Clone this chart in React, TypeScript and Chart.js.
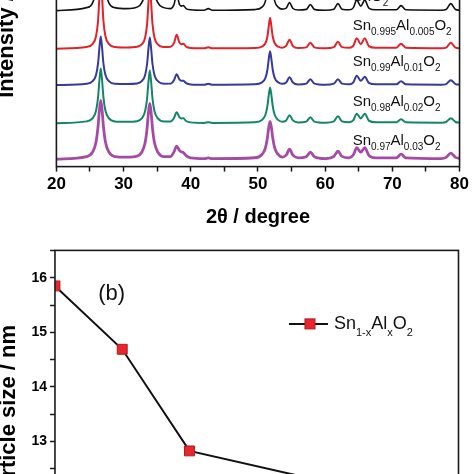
import React, { useEffect, useRef } from 'react';
import { Chart, registerables } from 'chart.js';

Chart.register(...registerables);

const FONT = "Arial, 'Liberation Sans', Helvetica, sans-serif";

// ---------- (a) XRD patterns ----------
const twoTheta = [20, 24.5, 25.4, 25.9, 26.2, 26.4, 26.6, 26.8, 27.0, 27.3, 27.8, 28.7, 30.5, 32.0, 32.7, 33.2, 33.5, 33.7, 33.9, 34.1, 34.3, 34.6, 35.1, 36.0, 37.0, 37.5, 37.9, 38.3, 38.6, 38.9, 39.3, 40.0, 42.0, 42.6, 43.2, 49.5, 50.6, 51.1, 51.4, 51.6, 51.8, 52.0, 52.2, 52.5, 53.0, 53.6, 54.2, 54.7, 55.2, 56.0, 57.2, 57.8, 58.4, 60.0, 61.3, 61.9, 62.5, 63.6, 64.2, 64.7, 65.3, 65.9, 66.5, 67.5, 70.6, 71.3, 72.0, 77.3, 78.0, 78.7, 79.4, 80];
const intensitySnO2 = [0, 3, 8, 22, 50, 97, 140, 97, 50, 22, 8, 3, 2, 3.5, 8, 20, 47, 90, 130, 90, 47, 20, 8, 3, 2, 6, 16, 6.5, 4.5, 5, 2, 0.8, 0.3, 2, 0.3, 1, 3.5, 9.3, 21.6, 41, 60, 41, 21.6, 9.3, 3.5, 1.5, 2.5, 8, 2.1, 0.6, 1.2, 6, 1.2, 0.3, 1.4, 7, 1.4, 0.8, 3, 10.5, 4.5, 10.5, 2.5, 0.8, 0.8, 5, 0.8, 0.4, 1.1, 7, 1.1, 0.4];
const intensityAl0005 = [0, 1.7, 4.8, 12.5, 28, 52, 72, 52, 28, 12.5, 4.8, 1.7, 1.2, 2, 4.2, 11, 25, 46, 64, 46, 25, 11, 4.2, 1.6, 2, 5.5, 14, 6.3, 4.5, 4.9, 2, 0.7, 0.3, 1.5, 0.3, 0.6, 2, 5.4, 12, 22.3, 31, 22.3, 12, 5.4, 2, 1, 2.8, 9, 2.6, 0.6, 1.3, 6, 1.3, 0.3, 1.5, 7, 1.5, 0.8, 3, 10.5, 4.5, 10.5, 2.5, 0.8, 0.9, 5, 0.9, 0.4, 1, 6, 1, 0.4];
const intensityAl001 = [0, 1.4, 4.1, 10.2, 21.9, 37.4, 49, 37.4, 21.9, 10.2, 4.1, 1.4, 1.2, 1.7, 4, 10, 21.5, 36.7, 48, 36.7, 21.5, 10, 4, 1.4, 1.5, 4.9, 11, 5.8, 4.4, 4.4, 2, 0.7, 0.3, 1.5, 0.3, 0.8, 2.8, 7.1, 15.2, 26, 34, 26, 15.2, 7.1, 2.8, 1.3, 2.6, 8, 2.6, 0.7, 1.5, 6, 1.5, 0.3, 1.5, 6, 1.5, 0.8, 2.8, 9.5, 4.3, 8.5, 2.2, 0.8, 0.8, 4, 0.8, 0.4, 1, 5, 1, 0.4];
const intensityAl002 = [0, 1.8, 5, 12.5, 26, 43, 55, 43, 26, 12.5, 5, 1.8, 1.4, 2, 4.8, 12, 25, 41.5, 53, 41.5, 25, 12, 4.8, 1.7, 1.7, 5.2, 11, 6.2, 4.8, 4.9, 2.2, 0.8, 0.3, 1, 0.3, 0.9, 3.3, 8.2, 17, 28, 36, 28, 17, 8.2, 3.3, 1.5, 2.8, 8, 2.8, 0.8, 1.6, 6, 1.6, 0.4, 1.8, 7, 1.8, 0.9, 3, 9.5, 4.8, 9.5, 2.6, 0.9, 0.9, 4, 0.9, 0.5, 1.2, 5, 1.2, 0.5];
const intensityAl003 = [0, 2.6, 7.3, 17.2, 33, 49, 59, 49, 33, 17.2, 7.3, 2.6, 2, 3, 6.9, 16.4, 31.3, 46.8, 56, 46.8, 31.3, 16.4, 6.9, 2.5, 2.6, 7.3, 13, 8.8, 7.3, 6.6, 3.6, 1.2, 0.5, 1.2, 0.5, 1.4, 4.7, 11.1, 21.2, 31.7, 38, 31.7, 21.2, 11.1, 4.7, 2, 4, 10, 4, 1.2, 2.5, 7, 2.5, 0.6, 2.8, 8, 2.8, 1.3, 4.4, 11.5, 7, 11.5, 3.8, 1.2, 1.3, 5, 1.3, 0.6, 1.8, 6, 1.8, 0.6];
const patternIntensities = [intensitySnO2, intensityAl0005, intensityAl001, intensityAl002, intensityAl003];
const stackOffsets = [157, 118.7, 82, 43.7, 7.5];
const sampleLabels = ['SnO_{2}', 'Sn_{0.995}Al_{0.005}O_{2}', 'Sn_{0.99}Al_{0.01}O_{2}', 'Sn_{0.98}Al_{0.02}O_{2}', 'Sn_{0.97}Al_{0.03}O_{2}'];
const labelLevels = [166.5, 137, 101, 61, 22];
const labelAt2Theta = 64.1;
const patternColors = ['#111111', '#e1222a', '#363a9a', '#158568', '#a64ba5'];
const patternWidths = [1.6, 2, 2, 2, 2.8];

// ---------- (b) particle size ----------
const molFractionX = [0, 0.005, 0.01, 0.02, 0.03];
const particleSizeNm = [15.85, 14.69, 12.83, 12.27, 11.9];
const panelTag = '(b)';
const panelTagAt = { x: 0.00421, y: 15.7 };
const seriesLabel = 'Sn_{1-x}Al_{x}O_{2}';

function drawRich(ctx: CanvasRenderingContext2D, text: string, x: number, y: number, mainPx: number, subPx: number, drop: number) {
  const parts = text.split(/(_\{[^}]*\})/).filter(Boolean);
  let cx = x;
  ctx.textAlign = 'left';
  ctx.textBaseline = 'alphabetic';
  for (const p of parts) {
    const sub = p.startsWith('_{');
    const t = sub ? p.slice(2, -1) : p;
    ctx.font = `${sub ? subPx : mainPx}px ${FONT}`;
    ctx.fillText(t, cx, y + (sub ? drop : 0));
    cx += ctx.measureText(t).width;
  }
}

const framePlugin = {
  id: 'frame',
  afterDatasetsDraw(chart: any) {
    const { ctx, chartArea: a } = chart;
    ctx.save();
    ctx.strokeStyle = '#1a1a1a';
    ctx.lineWidth = 1.6;
    ctx.strokeRect(a.left, a.top, a.right - a.left, a.bottom - a.top);
    ctx.restore();
  },
};

function place(chart: any, wrap: HTMLDivElement, t: { left: number; right: number; top: number; bottom: number }) {
  let a = chart.chartArea;
  const w = Math.round(chart.width + (t.right - t.left) - (a.right - a.left));
  const h = Math.round(chart.height + (t.bottom - t.top) - (a.bottom - a.top));
  chart.resize(w, h);
  a = chart.chartArea;
  wrap.style.left = `${t.left - a.left}px`;
  wrap.style.top = `${t.top - a.top}px`;
}

export default function App() {
  const wrapA = useRef<HTMLDivElement>(null);
  const canA = useRef<HTMLCanvasElement>(null);
  const wrapB = useRef<HTMLDivElement>(null);
  const canB = useRef<HTMLCanvasElement>(null);

  useEffect(() => {
    Chart.defaults.font.family = FONT;
    Chart.defaults.color = '#000';

    const labelsPlugin = {
      id: 'sampleLabels',
      afterDatasetsDraw(chart: any) {
        const { ctx, scales } = chart;
        ctx.save();
        ctx.fillStyle = '#111';
        sampleLabels.forEach((s, i) => {
          drawRich(ctx, s, scales.x.getPixelForValue(labelAt2Theta), scales.y.getPixelForValue(labelLevels[i]), 15, 10, 5);
        });
        ctx.restore();
      },
    };

    const chartA = new Chart(canA.current as HTMLCanvasElement, {
      type: 'line',
      data: {
        datasets: patternIntensities.map((vals, i) => ({
          label: sampleLabels[i],
          data: twoTheta.map((x, j) => ({ x, y: stackOffsets[i] + vals[j] })),
          borderColor: patternColors[i],
          borderWidth: patternWidths[i],
          pointRadius: 0,
          cubicInterpolationMode: 'monotone' as const,
          fill: false,
        })),
      },
      options: {
        responsive: false,
        maintainAspectRatio: false,
        animation: false,
        layout: { padding: 0 },
        plugins: { legend: { display: false }, tooltip: { enabled: false } },
        scales: {
          x: {
            type: 'linear',
            min: 20,
            max: 80,
            border: { display: false },
            grid: { display: true, drawOnChartArea: false, drawTicks: true, tickLength: 5, tickColor: '#1a1a1a', tickWidth: 1.5 },
            ticks: {
              stepSize: 5,
              autoSkip: false,
              maxRotation: 0,
              padding: 3,
              color: '#000',
              font: { size: 17, weight: 'bold' },
              callback: (v: any) => (Number(v) % 10 === 0 ? String(v) : ''),
            },
            title: { display: true, text: '2θ / degree', color: '#000', font: { size: 20, weight: 'bold' }, padding: { top: 7, bottom: 0 } },
          },
          y: {
            type: 'linear',
            min: 0,
            max: 286,
            border: { display: false },
            grid: { display: false },
            ticks: { display: false },
            title: { display: true, text: 'Intensity / a.u.', color: '#000', font: { size: 22, weight: 'bold' }, padding: { top: 2, bottom: 28 } },
          },
        },
      } as any,
      plugins: [framePlugin, labelsPlugin],
    });
    place(chartA, wrapA.current as HTMLDivElement, { left: 56, right: 459, top: -118, bottom: 168 });

    const extrasPlugin = {
      id: 'panelExtras',
      afterDatasetsDraw(chart: any) {
        const { ctx, scales, chartArea: a } = chart;
        ctx.save();
        ctx.fillStyle = '#111';
        ctx.font = `22px ${FONT}`;
        ctx.textAlign = 'center';
        ctx.textBaseline = 'middle';
        ctx.fillText(panelTag, scales.x.getPixelForValue(panelTagAt.x), scales.y.getPixelForValue(panelTagAt.y));
        // legend
        const ly = a.top + 73.5;
        ctx.strokeStyle = '#111';
        ctx.lineWidth = 2;
        ctx.beginPath();
        ctx.moveTo(a.left + 234, ly);
        ctx.lineTo(a.left + 273, ly);
        ctx.stroke();
        ctx.fillStyle = '#e8262c';
        ctx.strokeStyle = '#b01a1e';
        ctx.lineWidth = 1;
        ctx.fillRect(a.left + 250, ly - 5, 10, 10);
        ctx.strokeRect(a.left + 250, ly - 5, 10, 10);
        ctx.fillStyle = '#111';
        drawRich(ctx, seriesLabel, a.left + 279, a.top + 79, 18, 11, 7);
        ctx.restore();
      },
    };

    const chartB = new Chart(canB.current as HTMLCanvasElement, {
      type: 'line',
      data: {
        datasets: [
          {
            label: 'Sn1-xAlxO2',
            data: molFractionX.map((x, i) => ({ x, y: particleSizeNm[i] })),
            borderColor: '#111',
            borderWidth: 2,
            pointStyle: 'rect',
            pointRadius: 7,
            pointBackgroundColor: '#e8262c',
            pointBorderColor: '#b01a1e',
            pointBorderWidth: 1,
            clip: 0,
          },
        ],
      },
      options: {
        responsive: false,
        maintainAspectRatio: false,
        animation: false,
        layout: { padding: 0 },
        plugins: { legend: { display: false }, tooltip: { enabled: false } },
        scales: {
          x: {
            type: 'linear',
            min: 0,
            max: 0.03,
            border: { display: false },
            grid: { display: true, drawOnChartArea: false, tickLength: 5, tickColor: '#1a1a1a', tickWidth: 1.5 },
            ticks: { stepSize: 0.005, autoSkip: false, maxRotation: 0, padding: 3, color: '#000', font: { size: 14, weight: 'bold' } },
          },
          y: {
            type: 'linear',
            min: 10.5,
            max: 16.5,
            border: { display: false },
            grid: { display: true, drawOnChartArea: false, tickLength: 5, tickColor: '#1a1a1a', tickWidth: 1.5 },
            ticks: {
              stepSize: 0.5,
              autoSkip: false,
              padding: 3,
              color: '#000',
              font: { size: 14, weight: 'bold' },
              callback: (v: any) => (Number.isInteger(Number(v)) ? String(v) : ''),
            },
            title: { display: true, text: 'Particle size / nm', color: '#000', font: { size: 22, weight: 'bold' }, padding: { top: 0, bottom: 6 } },
          },
        },
      } as any,
      plugins: [framePlugin, extrasPlugin],
    });
    place(chartB, wrapB.current as HTMLDivElement, { left: 55, right: 459, top: 250, bottom: 577.6 });

    return () => {
      chartA.destroy();
      chartB.destroy();
    };
  }, []);

  return (
    <div style={{ position: 'fixed', left: 0, top: 0, width: 474, height: 474, overflow: 'hidden', background: '#fff' }}>
      <div ref={wrapA} style={{ position: 'absolute', left: 0, top: 0 }}>
        <canvas ref={canA} width={520} height={360} style={{ display: 'block' }} />
      </div>
      <div ref={wrapB} style={{ position: 'absolute', left: 0, top: 240 }}>
        <canvas ref={canB} width={520} height={380} style={{ display: 'block' }} />
      </div>
    </div>
  );
}
